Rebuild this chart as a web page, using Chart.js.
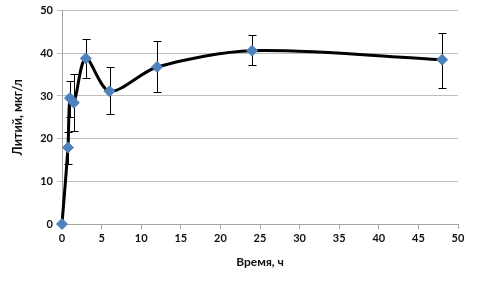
<!DOCTYPE html>
<html>
<head>
<meta charset="utf-8">
<script src="https://cdn.jsdelivr.net/npm/chart.js@4.4.1/dist/chart.umd.min.js"></script>
<style>
  body { margin: 0; background: #fff; }
</style>
</head>
<body>
<canvas id="chart" width="478" height="283"></canvas>
<script>
// Данные: время (ч), литий (мкг/л) и границы погрешности
const hours = [0, 0.75, 1, 1.5, 3, 6, 12, 24, 48];
const lithium = [0, 17.9, 29.5, 28.4, 38.8, 31.1, 36.8, 40.6, 38.5];
const errLow = [0, 14.0, 25.0, 21.7, 34.3, 25.7, 31.0, 37.2, 31.8];
const errHigh = [0, 21.5, 33.6, 35.2, 43.3, 36.9, 42.8, 44.3, 44.8];

const xTicks = [0, 5, 10, 15, 20, 25, 30, 35, 40, 45, 50];
const yTicks = [0, 10, 20, 30, 40, 50];

const fontFamily = 'Lato, "Liberation Sans", sans-serif';
const tickFont = { family: fontFamily, size: 11, weight: 'bold' };

// Планки погрешностей через шкалы графика
const errorBars = {
    id: 'errorBars',
    beforeDatasetsDraw(chart) {
        const ctx = chart.ctx;
        const x = chart.scales.x;
        const y = chart.scales.y;
        ctx.save();
        ctx.strokeStyle = '#000';
        ctx.lineWidth = 1;
        hours.forEach((h, i) => {
            if (errHigh[i] === errLow[i]) return;
            const px = Math.round(x.getPixelForValue(h)) + 0.5;
            const top = Math.round(y.getPixelForValue(errHigh[i])) + 0.5;
            const bot = Math.round(y.getPixelForValue(errLow[i])) + 0.5;
            ctx.beginPath();
            ctx.moveTo(px, top);
            ctx.lineTo(px, bot);
            ctx.moveTo(px - 4, top);
            ctx.lineTo(px + 4, top);
            ctx.moveTo(px - 4, bot);
            ctx.lineTo(px + 4, bot);
            ctx.stroke();
        });
        ctx.restore();
    }
};

new Chart(document.getElementById('chart'), {
    type: 'line',
    data: {
        datasets: [{
            data: hours.map((h, i) => ({ x: h, y: lithium[i] })),
            borderColor: '#000',
            borderWidth: 3,
            tension: 0.3,
            clip: false,
            pointStyle: 'rectRot',
            pointRadius: 5.5,
            pointBackgroundColor: '#4F81BD',
            pointBorderColor: '#4F81BD',
            pointBorderWidth: 1
        }]
    },
    options: {
        responsive: false,
        animation: false,
        layout: { padding: { top: 8, right: 20, left: 0, bottom: 0 } },
        plugins: {
            legend: { display: false },
            tooltip: { enabled: false }
        },
        scales: {
            x: {
                type: 'linear',
                min: 0,
                max: 50,
                afterBuildTicks: (s) => { s.ticks = xTicks.map(v => ({ value: v })); },
                afterFit: (s) => { s.height = 59; },
                grid: { drawOnChartArea: false, drawTicks: true, tickLength: 5, color: '#A6A6A6' },
                border: { color: '#A6A6A6' },
                ticks: { color: '#111', font: tickFont, padding: 3, maxRotation: 0 },
                title: {
                    display: true,
                    text: 'Время, ч',
                    color: '#111',
                    font: { family: fontFamily, size: 12, weight: 'bold' },
                    padding: { top: 2, bottom: 14 }
                }
            },
            y: {
                min: 0,
                max: 50,
                afterBuildTicks: (s) => { s.ticks = yTicks.map(v => ({ value: v })); },
                afterFit: (s) => { s.width = 62; },
                grid: { color: '#BFBFBF', tickLength: 5, lineWidth: 1 },
                border: { color: '#A6A6A6' },
                ticks: { color: '#111', font: tickFont, padding: 4 },
                title: {
                    display: true,
                    text: 'Литий, мкг/л',
                    color: '#111',
                    font: { family: fontFamily, size: 12.5, weight: 'bold' },
                    padding: { top: 10, bottom: 0 }
                }
            }
        }
    },
    plugins: [errorBars]
});
</script>
</body>
</html>
